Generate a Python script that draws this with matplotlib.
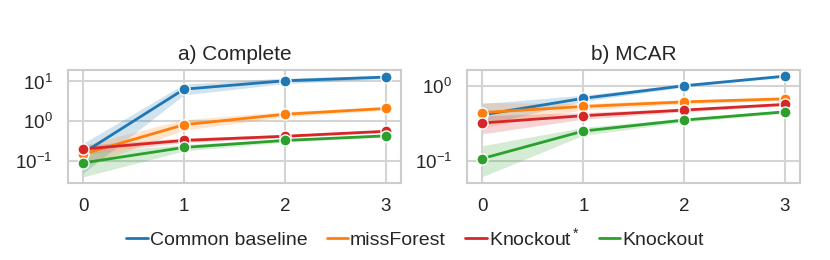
import matplotlib
matplotlib.use("Agg")
import matplotlib.pyplot as plt
import seaborn as sns
from matplotlib.lines import Line2D

sns.set_theme(style="whitegrid")
plt.rcParams['font.family'] = ['Liberation Sans', 'DejaVu Sans']
plt.rcParams['mathtext.fontset'] = 'custom'
plt.rcParams['mathtext.rm'] = 'Liberation Sans'
plt.rcParams['mathtext.it'] = 'Liberation Sans:italic'
plt.rcParams['mathtext.default'] = 'regular'

x = [0, 1, 2, 3]
names = ["Common baseline", "missForest", "Knockout$^*$", "Knockout"]
colors = ["#1f77b4", "#ff7f0e", "#d62728", "#2ca02c"]

# a) Complete
comp_mean = [[0.16, 6.4, 10.4, 12.9],
             [0.15, 0.82, 1.5, 2.1],
             [0.20, 0.33, 0.42, 0.56],
             [0.09, 0.22, 0.33, 0.43]]
comp_lo = [[0.05, 4.6, 8.8, 11.8],
           [0.07, 0.6, 1.3, 1.9],
           [0.15, 0.29, 0.39, 0.52],
           [0.04, 0.18, 0.30, 0.40]]
comp_hi = [[0.28, 8.6, 12.2, 14.2],
           [0.25, 1.1, 1.75, 2.3],
           [0.25, 0.38, 0.46, 0.60],
           [0.16, 0.26, 0.36, 0.46]]

# b) MCAR
mcar_mean = [[0.41, 0.68, 1.0, 1.34],
             [0.44, 0.53, 0.61, 0.67],
             [0.32, 0.40, 0.475, 0.565],
             [0.108, 0.25, 0.35, 0.45]]
mcar_lo = [[0.30, 0.62, 0.96, 1.30],
           [0.28, 0.48, 0.57, 0.64],
           [0.23, 0.36, 0.45, 0.54],
           [0.062, 0.22, 0.33, 0.43]]
mcar_hi = [[0.58, 0.75, 1.05, 1.38],
           [0.60, 0.58, 0.65, 0.70],
           [0.40, 0.44, 0.50, 0.59],
           [0.16, 0.28, 0.37, 0.47]]

fig, axes = plt.subplots(1, 2, figsize=(8.3, 2.6), dpi=100)
fig.subplots_adjust(left=0.082, right=0.964, top=0.731, bottom=0.296, wspace=0.2)

panels = [("a) Complete", comp_mean, comp_lo, comp_hi, (0.028, 19.5)),
          ("b) MCAR", mcar_mean, mcar_lo, mcar_hi, (0.051, 1.62))]

for ax, (title, mean, lo, hi, ylim) in zip(axes, panels):
    for i in range(4):
        ax.fill_between(x, lo[i], hi[i], color=colors[i], alpha=0.2, linewidth=0)
        ax.plot(x, mean[i], color=colors[i], lw=2, marker='o', ms=8,
                mec='white', mew=1)
    ax.set_yscale('log')
    ax.set_ylim(*ylim)
    ax.set_xticks(x)
    ax.set_xlim(-0.15, 3.15)
    ax.minorticks_off()
    ax.set_title(title, fontsize=15, pad=7)
    ax.tick_params(labelsize=13.5, pad=5)
    for s in ax.spines.values():
        s.set_color('#cccccc')
        s.set_linewidth(1.5)
    ax.grid(color='#d4d4d4', lw=1.5)

h = [Line2D([], [], color=c, lw=2) for c in colors]
fig.legend(h, names, loc='center', ncol=4, frameon=False, fontsize=14,
           bbox_to_anchor=(0.5, 0.085), handlelength=1.1, handletextpad=0.1,
           columnspacing=1.0)

fig.savefig("out.png")
